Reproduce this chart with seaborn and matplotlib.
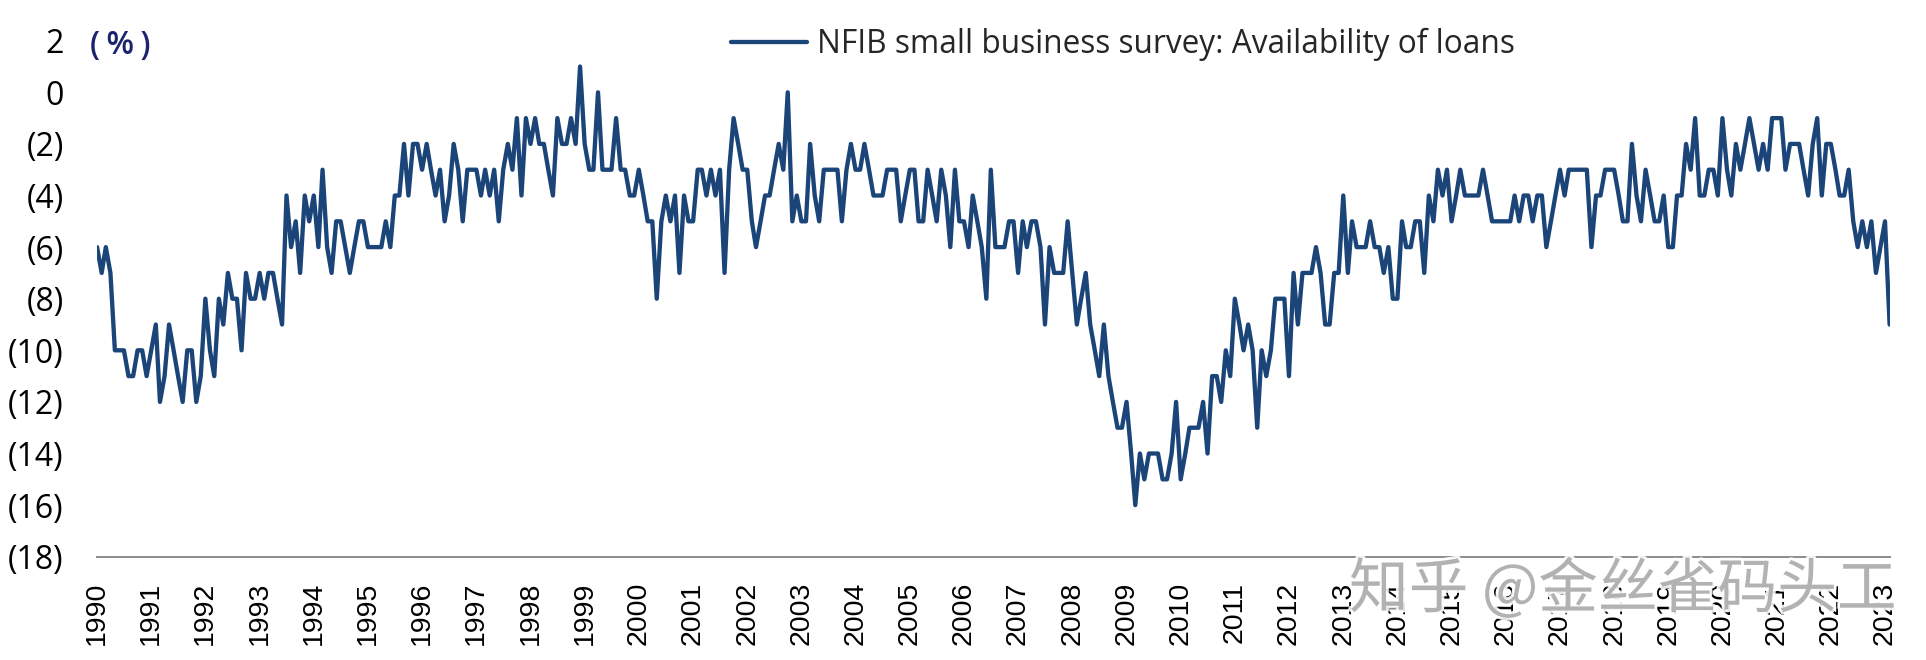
import numpy as np
import pandas as pd
import matplotlib
matplotlib.use('Agg')
import matplotlib.pyplot as plt
import matplotlib.dates as mdates
import matplotlib.patheffects as pe
from matplotlib import font_manager
from matplotlib.ticker import FuncFormatter, MultipleLocator
import seaborn as sns

#%% données : NFIB, disponibilité du crédit (mensuel, janv. 1990 -> fév. 2023)
series_name = 'NFIB small business survey: Availability of loans'

loans_1990_1994 = [
    -6, -7, -6, -7, -10, -10, -10, -11, -11, -10, -10, -11,
    -10, -9, -12, -11, -9, -10, -11, -12, -10, -10, -12, -11,
    -8, -10, -11, -8, -9, -7, -8, -8, -10, -7, -8, -8,
    -7, -8, -7, -7, -8, -9, -4, -6, -5, -7, -4, -5,
    -4, -6, -3, -6, -7, -5, -5, -6, -7, -6, -5, -5,
]
loans_1995_1999 = [
    -6, -6, -6, -6, -5, -6, -4, -4, -2, -4, -2, -2,
    -3, -2, -3, -4, -3, -5, -4, -2, -3, -5, -3, -3,
    -3, -4, -3, -4, -3, -5, -3, -2, -3, -1, -4, -1,
    -2, -1, -2, -2, -3, -4, -1, -2, -2, -1, -2, 1,
    -2, -3, -3, 0, -3, -3, -3, -1, -3, -3, -4, -4,
]
loans_2000_2004 = [
    -3, -4, -5, -5, -8, -5, -4, -5, -4, -7, -4, -5,
    -5, -3, -3, -4, -3, -4, -3, -7, -3, -1, -2, -3,
    -3, -5, -6, -5, -4, -4, -3, -2, -3, 0, -5, -4,
    -5, -5, -2, -4, -5, -3, -3, -3, -3, -5, -3, -2,
    -3, -3, -2, -3, -4, -4, -4, -3, -3, -3, -5, -4,
]
loans_2005_2009 = [
    -3, -3, -5, -5, -3, -4, -5, -3, -4, -6, -3, -5,
    -5, -6, -4, -5, -6, -8, -3, -6, -6, -6, -5, -5,
    -7, -5, -6, -5, -5, -6, -9, -6, -7, -7, -7, -5,
    -7, -9, -8, -7, -9, -10, -11, -9, -11, -12, -13, -13,
    -12, -14, -16, -14, -15, -14, -14, -14, -15, -15, -14, -12,
]
loans_2010_2014 = [
    -15, -14, -13, -13, -13, -12, -14, -11, -11, -12, -10, -11,
    -8, -9, -10, -9, -10, -13, -10, -11, -10, -8, -8, -8,
    -11, -7, -9, -7, -7, -7, -6, -7, -9, -9, -7, -7,
    -4, -7, -5, -6, -6, -6, -5, -6, -6, -7, -6, -8,
    -8, -5, -6, -6, -5, -5, -7, -4, -5, -3, -4, -3,
]
loans_2015_2019 = [
    -5, -4, -3, -4, -4, -4, -4, -3, -4, -5, -5, -5,
    -5, -5, -4, -5, -4, -4, -5, -4, -4, -6, -5, -4,
    -3, -4, -3, -3, -3, -3, -3, -6, -4, -4, -3, -3,
    -3, -4, -5, -5, -2, -4, -5, -3, -4, -5, -5, -4,
    -6, -6, -4, -4, -2, -3, -1, -4, -4, -3, -3, -4,
]
loans_2020_2023 = [
    -1, -3, -4, -2, -3, -2, -1, -2, -3, -2, -3, -1,
    -1, -1, -3, -2, -2, -2, -3, -4, -2, -1, -4, -2,
    -2, -3, -4, -4, -3, -5, -6, -5, -6, -5, -7, -6,
    -5, -9,
]

values = (loans_1990_1994 + loans_1995_1999 + loans_2000_2004 + loans_2005_2009
          + loans_2010_2014 + loans_2015_2019 + loans_2020_2023)
months = pd.date_range('1990-01-01', periods=len(values), freq='MS')
df = pd.DataFrame({'month': months, 'value': values})

#%% polices
sns.set_theme(style='white')
installed = {f.name for f in font_manager.fontManager.ttflist}

def pick(*names):
    for n in names:
        if n in installed:
            return n
    return 'DejaVu Sans'

main_font = pick('Open Sans', 'Noto Sans', 'Liberation Sans')
narrow_font = pick('Liberation Sans Narrow', 'Liberation Sans')
xtick_size = 22.5 if narrow_font == 'Liberation Sans Narrow' else 20.5
plt.rcParams['font.family'] = [main_font, 'DejaVu Sans']

navy = '#1b4478'

#%% figure
fig = plt.figure(figsize=(19.26, 6.6), dpi=100)
ax = fig.add_axes([0.0504, 0.1565, 0.9307, 0.7818])

sns.lineplot(data=df, x='month', y='value', ax=ax, color=navy, linewidth=3.1,
             label=series_name)

ax.set_xlim(months[0], months[-1])
ax.set_ylim(-18, 2)

def paren(v, pos):
    v = int(round(v))
    if v < 0:
        return f'({-v})'
    return str(v)

ax.yaxis.set_major_locator(MultipleLocator(2))
ax.yaxis.set_major_formatter(FuncFormatter(paren))
ax.xaxis.set_major_locator(mdates.YearLocator())
ax.xaxis.set_major_formatter(mdates.DateFormatter('%Y'))

ax.set_xlabel('')
ax.set_ylabel('')
ax.tick_params(axis='y', length=0, pad=24, labelsize=23, labelcolor='black')
ax.tick_params(axis='x', length=0, pad=18)
for lab in ax.get_xticklabels():
    lab.set_rotation(90)
    lab.set_fontfamily(narrow_font)
    lab.set_fontsize(xtick_size)
    lab.set_color('black')

sns.despine(ax=ax, left=True)
ax.spines['bottom'].set_color('#8c8c8c')
ax.spines['bottom'].set_linewidth(1.4)
ax.grid(False)

ax.legend(loc='center left', bbox_to_anchor=(0.3796, 0.9329),
          bbox_transform=fig.transFigure, frameon=False, borderpad=0,
          borderaxespad=0, handlelength=2.4, handletextpad=0.3,
          fontsize=22.8)

# unité, avec espaces fines
fig.text(90 / 1926, 1 - 46 / 660, '(\u2009%\u2009)', fontsize=23, color='#1c2470',
         fontweight='semibold', family=[main_font, 'DejaVu Sans'],
         ha='left', va='center')

# filigrane
fig.text(1349 / 1926, 1 - 591 / 660, '知乎 @金丝雀码头工', fontsize=43,
         family=['Noto Sans CJK SC', 'DejaVu Sans'], color='#ababab', alpha=0.9,
         ha='left', va='center', zorder=10,
         path_effects=[pe.withStroke(linewidth=4, foreground='white')])

fig.savefig('out.png', dpi=100)
